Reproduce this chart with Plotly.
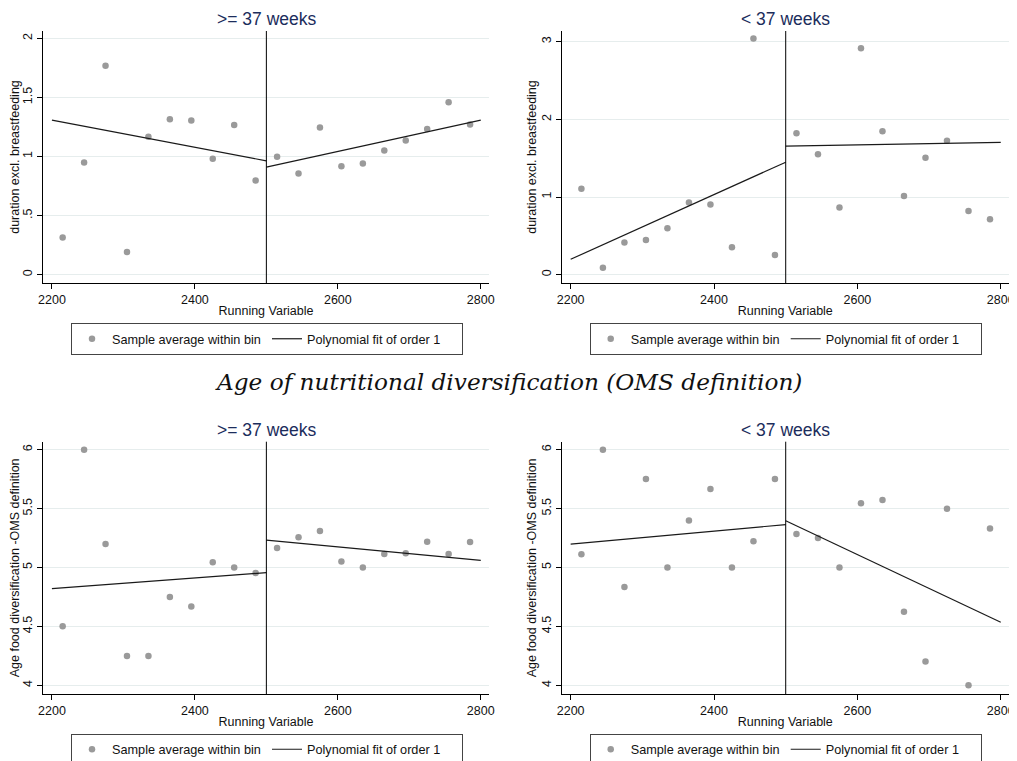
import plotly.graph_objects as go

# The page body has an 8px margin, so the figure is placed at (8, 8) in the window.
OFF = 8
W, H = 1017 - OFF, 761 - OFF

# ---------------- data ----------------
bins_left = [2215, 2245, 2275, 2305, 2335, 2365, 2395, 2425, 2455, 2485]
bins_right = [2515, 2545, 2575, 2605, 2635, 2665, 2695, 2725, 2755, 2785]
cutoff = 2500
fit_x_left = [2200, 2500]
fit_x_right = [2500, 2800]

# Panel 1: duration excl. breastfeeding, >= 37 weeks
p1_left = [0.314, 0.949, 1.768, 0.192, 1.167, 1.314, 1.305, 0.980, 1.266, 0.797]
p1_right = [0.997, 0.856, 1.246, 0.918, 0.941, 1.051, 1.136, 1.232, 1.458, 1.271]
p1_fit_left = [1.308, 0.963]
p1_fit_right = [0.910, 1.308]

# Panel 2: duration excl. breastfeeding, < 37 weeks
p2_left = [1.105, 0.090, 0.413, 0.447, 0.597, 0.928, 0.903, 0.352, 3.039, 0.254]
p2_right = [1.822, 1.552, 0.864, 2.914, 1.848, 1.014, 1.504, 1.723, 0.821, 0.713]
p2_fit_left = [0.198, 1.448]
p2_fit_right = [1.655, 1.702]

# Panel 3: age food diversification, >= 37 weeks
p3_left = [4.501, 6.000, 5.199, 4.249, 4.249, 4.750, 4.668, 5.044, 5.001, 4.953]
p3_right = [5.165, 5.256, 5.310, 5.050, 5.001, 5.115, 5.120, 5.219, 5.115, 5.216]
p3_fit_left = [4.820, 4.956]
p3_fit_right = [5.233, 5.061]

# Panel 4: age food diversification, < 37 weeks
p4_left = [5.112, 6.000, 4.834, 5.751, 5.001, 5.400, 5.666, 5.001, 5.222, 5.751]
p4_right = [5.284, 5.250, 5.001, 5.545, 5.573, 4.625, 4.201, 5.499, 4.000, 5.332]
p4_fit_left = [5.199, 5.364]
p4_fit_right = [5.397, 4.535]

panel_titles = [">= 37 weeks", "< 37 weeks", ">= 37 weeks", "< 37 weeks"]
ytitle_top = "duration excl. breastfeeding"
ytitle_bottom = "Age food diversification -OMS definition"
xtitle = "Running Variable"
middle_title = "Age of nutritional diversification (OMS definition)"
legend_names = ["Sample average within bin", "Polynomial fit of order 1"]

x_ticks = [2200, 2400, 2600, 2800]
top1_ticks = [0, 0.5, 1, 1.5, 2]
top1_text = ["0", ".5", "1", "1.5", "2"]
top2_ticks = [0, 1, 2, 3]
top2_text = ["0", "1", "2", "3"]
bot_ticks = [4, 4.5, 5, 5.5, 6]
bot_text = ["4", "4.5", "5", "5.5", "6"]

# ---------------- layout helpers (window pixels -> paper fractions) ----------------
def fx(px):
    return (px - OFF) / W

def fy(py):
    return 1 - (py - OFF) / H

panels = [
    dict(xd=(43, 489), yd=(31, 283), yr=[-0.071, 2.062], tv=top1_ticks, tt=top1_text,
         yt=ytitle_top, pts=(p1_left, p1_right), fit=(p1_fit_left, p1_fit_right), leg_y=323),
    dict(xd=(561.7, 1009), yd=(31, 283), yr=[-0.107, 3.137], tv=top2_ticks, tt=top2_text,
         yt=ytitle_top, pts=(p2_left, p2_right), fit=(p2_fit_left, p2_fit_right), leg_y=323),
    dict(xd=(43, 489), yd=(441.7, 694), yr=[3.926, 6.068], tv=bot_ticks, tt=bot_text,
         yt=ytitle_bottom, pts=(p3_left, p3_right), fit=(p3_fit_left, p3_fit_right), leg_y=733.5),
    dict(xd=(561.7, 1009), yd=(441.7, 694), yr=[3.926, 6.068], tv=bot_ticks, tt=bot_text,
         yt=ytitle_bottom, pts=(p4_left, p4_right), fit=(p4_fit_left, p4_fit_right), leg_y=733.5),
]

FONT = "Liberation Sans, Arial, sans-serif"
GRID = "#e6eded"
DOT = "#9a9a9a"
NAVY = "#1c2d5c"

fig = go.Figure()
layout = dict(
    width=W, height=H,
    margin=dict(l=0, r=0, t=0, b=0, autoexpand=False),
    paper_bgcolor="white", plot_bgcolor="white",
    font=dict(family=FONT, size=12.5, color="#111"),
    annotations=[], shapes=[],
)

for i, p in enumerate(panels, start=1):
    sfx = "" if i == 1 else str(i)
    xa, ya = "x" + sfx, "y" + sfx
    leg = "legend" if i == 1 else "legend" + str(i)
    left, right = p["pts"]
    fl, fr = p["fit"]
    fig.add_trace(go.Scatter(
        x=bins_left + bins_right, y=left + right, mode="markers",
        marker=dict(color=DOT, size=6.5), name=legend_names[0],
        xaxis=xa, yaxis=ya, legend=leg, showlegend=True))
    fig.add_trace(go.Scatter(
        x=fit_x_left, y=fl, mode="lines", line=dict(color="#1a1a1a", width=1.2),
        name=legend_names[1], xaxis=xa, yaxis=ya, legend=leg, showlegend=True))
    fig.add_trace(go.Scatter(
        x=fit_x_right, y=fr, mode="lines", line=dict(color="#1a1a1a", width=1.2),
        name=legend_names[1], xaxis=xa, yaxis=ya, legend=leg, showlegend=False))

    layout["xaxis" + sfx] = dict(
        domain=[fx(p["xd"][0]), fx(p["xd"][1])], anchor=ya, automargin=False,
        range=[2187.5, 2811.5], tickvals=x_ticks, ticks="outside", ticklen=5,
        tickcolor="black", showline=True, linecolor="black", linewidth=1,
        showgrid=False, zeroline=False, tickfont=dict(size=12.5),
        title=dict(text=xtitle, font=dict(size=12.5), standoff=0),
    )
    layout["yaxis" + sfx] = dict(
        domain=[fy(p["yd"][1]), fy(p["yd"][0])], anchor=xa, automargin=False,
        range=p["yr"], tickvals=p["tv"], ticktext=p["tt"], tickangle=-90,
        ticks="outside", ticklen=5, tickcolor="black", showline=True,
        linecolor="black", linewidth=1, showgrid=True, gridcolor=GRID,
        gridwidth=1, zeroline=False, tickfont=dict(size=12.5),
        title=dict(text=p["yt"], font=dict(size=12.5), standoff=0),
    )
    layout[leg] = dict(
        orientation="h", x=fx(p["xd"][0] + 28), xanchor="left",
        y=fy(p["leg_y"]), yanchor="top", bordercolor="#444", borderwidth=1,
        bgcolor="white", font=dict(size=12.7, family=FONT), entrywidth=150,
        itemwidth=30, tracegroupgap=0,
    )
    layout["shapes"].append(dict(
        type="line", xref=xa, yref=ya + " domain", x0=cutoff, x1=cutoff,
        y0=0, y1=1, line=dict(color="black", width=1)))
    layout["annotations"].append(dict(
        text=panel_titles[i - 1], xref="paper", yref="paper",
        x=fx((p["xd"][0] + p["xd"][1]) / 2), y=fy(p["yd"][0] - 12),
        xanchor="center", yanchor="middle", showarrow=False,
        font=dict(size=17.5, color=NAVY, family=FONT)))

layout["annotations"].append(dict(
    text="<i>" + middle_title + "</i>", xref="paper", yref="paper",
    x=fx(508), y=fy(381), xanchor="center", yanchor="middle", showarrow=False,
    font=dict(size=23.2, color="#111", family="DejaVu Serif, Liberation Serif, serif")))

fig.update_layout(**layout)
fig.write_html("out.html")
